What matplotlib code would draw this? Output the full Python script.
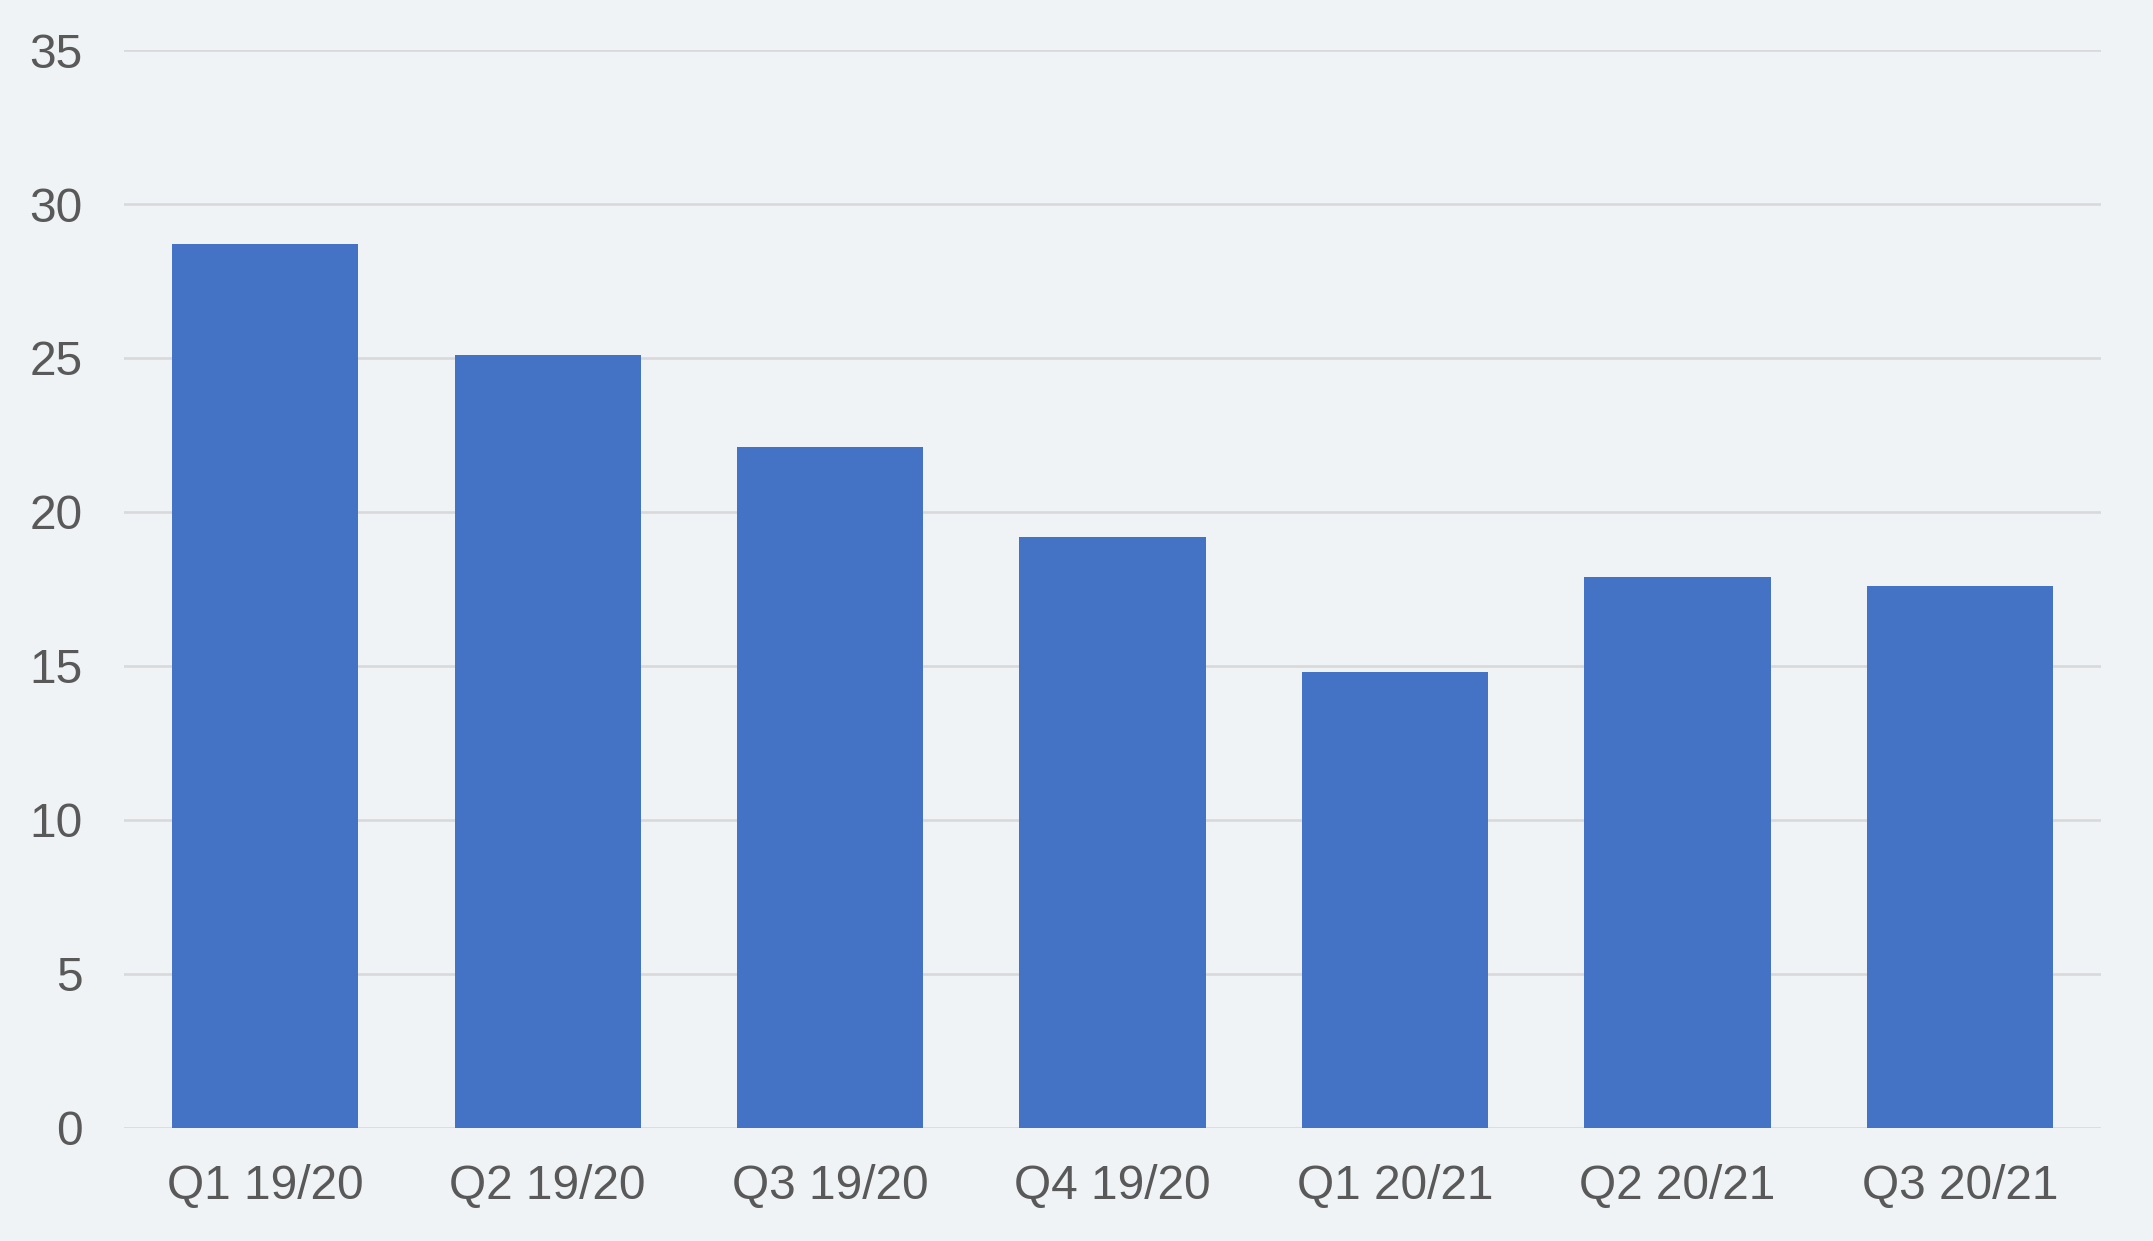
import matplotlib
matplotlib.use("Agg")
import matplotlib.pyplot as plt

categories = ["Q1 19/20", "Q2 19/20", "Q3 19/20", "Q4 19/20", "Q1 20/21", "Q2 20/21", "Q3 20/21"]
values = [28.7, 25.1, 22.1, 19.2, 14.8, 17.9, 17.6]
yticks = [0, 5, 10, 15, 20, 25, 30, 35]

bg = "#EFF3F5"
plt.rcParams['font.family'] = ['Liberation Sans', 'DejaVu Sans']

fig = plt.figure(figsize=(21.53, 12.41), dpi=100, facecolor=bg)
ax = fig.add_axes([0.0576, 0.0911, 0.9184, 0.8686])
ax.set_facecolor(bg)

x = list(range(len(categories)))
ax.bar(x, values, width=0.66, color="#4472C4", zorder=3)

ax.set_xlim(-0.5, len(categories) - 0.5)
ax.set_ylim(0, 35)
ax.set_yticks(yticks)
ax.set_xticks(x)
ax.set_xticklabels(categories)

ax.grid(axis='y', color="#D9D9D9", linewidth=1.9, zorder=0)
for s in ax.spines.values():
    s.set_visible(False)
ax.tick_params(axis='both', length=0, labelsize=34.5, colors="#595959")
ax.tick_params(axis='y', pad=30)
ax.tick_params(axis='x', pad=26)

fig.savefig("out.png", dpi=100, facecolor=bg)
